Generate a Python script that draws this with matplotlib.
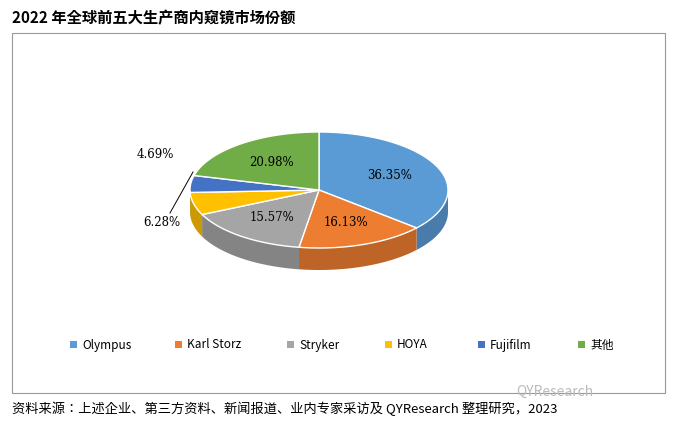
import numpy as np
import matplotlib
matplotlib.use("Agg")
import matplotlib.pyplot as plt
from matplotlib.patches import Polygon, Rectangle
import matplotlib.colors as mc
from matplotlib import font_manager as fm

cjk = None
for f in fm.findSystemFonts():
    if 'CJK' in f or 'cjk' in f.lower():
        cjk = f
        if 'Regular' in f or 'SC' in f:
            break
if cjk:
    fm.fontManager.addfont(cjk)
    cjkname = fm.FontProperties(fname=cjk).get_name()
else:
    cjkname = 'Noto Sans CJK SC'
plt.rcParams['font.family'] = [cjkname, 'DejaVu Sans']

categories = ["Olympus", "Karl Storz", "Stryker", "HOYA", "Fujifilm", "其他"]
values = [36.35, 16.13, 15.57, 6.28, 4.69, 20.98]
colors = ["#5B9BD5", "#ED7D31", "#A5A5A5", "#FFC000", "#4472C4", "#70AD47"]
title = "2022 年全球前五大生产商内窥镜市场份额"
source = "资料来源：上述企业、第三方资料、新闻报道、业内专家采访及 QYResearch 整理研究，2023"

fig = plt.figure(figsize=(6.73, 4.24), dpi=100)
ax = fig.add_axes([0, 0, 1, 1])
ax.set_xlim(0, 673); ax.set_ylim(424, 0); ax.axis('off')

cx, cy, rx, ry, depth = 319, 190, 129, 58, 22
def pt(t, dy=0):
    r = np.radians(t)
    return cx + rx*np.cos(r), cy - ry*np.sin(r) + dy

ax.add_patch(Rectangle((12, 33), 653, 360, fill=False, ec="#999999", lw=0.8))
ax.text(12, 18, title, fontsize=11, fontweight='bold', va='center', ha='left')

total = sum(values)
starts = []
a = 90.0
for v in values:
    e = a - v/total*360
    starts.append((a, e))
    a = e

for (s, e), c in zip(starts, colors):
    lo, hi = max(e, -180), min(s, 0)
    if lo < hi:
        ts = np.linspace(hi, lo, 60)
        top = [pt(t) for t in ts]
        bot = [pt(t, depth) for t in ts[::-1]]
        dark = np.array(mc.to_rgb(c))*0.8
        ax.add_patch(Polygon(top+bot, closed=True, fc=dark, ec='none'))
for (s, e), c in zip(starts, colors):
    ts = np.linspace(s, e, 80)
    poly = [(cx, cy)] + [pt(t) for t in ts]
    ax.add_patch(Polygon(poly, closed=True, fc=c, ec='white', lw=1))

label_pos = {0: 0.6, 1: 0.6, 2: 0.6, 5: 0.6}
for i, ((s, e), v) in enumerate(zip(starts, values)):
    m = (s+e)/2
    if i in label_pos:
        f = label_pos[i]
        x = cx + f*rx*np.cos(np.radians(m)); y = cy - f*ry*np.sin(np.radians(m))
        ax.text(x, y, f"{v:.2f}%", fontsize=8.5, ha='center', va='center', family='DejaVu Serif')
ax.text(155, 155, f"{values[4]:.2f}%", fontsize=8.5, ha='center', va='center', family='DejaVu Serif')
ax.text(162, 222, f"{values[3]:.2f}%", fontsize=8.5, ha='center', va='center', family='DejaVu Serif')
ax.plot([193, 170], [172, 213], color='black', lw=0.7)

xs = [70, 175, 287, 385, 478, 578]
for x, c, n in zip(xs, colors, categories):
    ax.add_patch(Rectangle((x, 341), 7, 7, fc=c, ec='none'))
    ax.text(x+12, 345, n, fontsize=8.5, va='center', ha='left')

ax.text(555, 392, "QYResearch", fontsize=10, color="#BBBBBB", ha='center', va='center')
ax.text(12, 409, source, fontsize=9.5, va='center', ha='left')
fig.savefig("out.png", dpi=100)
